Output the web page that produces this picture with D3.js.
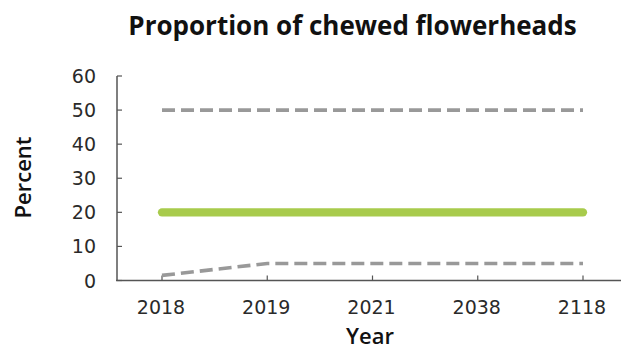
<!DOCTYPE html>
<html><head><meta charset="utf-8">
<script src="https://cdn.jsdelivr.net/npm/d3@7/dist/d3.min.js"></script>
<style>body{margin:0;background:#fff}svg{display:block}</style>
</head><body><svg id="c" width="621" height="349"></svg>
<script>
const years = ["2018","2019","2021","2038","2118"];
const targetLine = [20,20,20,20,20];
const upperBound = [50,50,50,50,50];
const lowerBound = [1.5,5,5,5,5];
const yTicks = [0,10,20,30,40,50,60];

const svg = d3.select("#c");
const font = "'Open Sans', sans-serif";
const numFont = "'DejaVu Sans', sans-serif";
const x = d3.scalePoint().domain(years).range([162,583]);
const y = d3.scaleLinear().domain([0,60]).range([280.5,76]);

svg.append("text").attr("x",352.5).attr("y",35).attr("text-anchor","middle")
  .attr("font-family",font).attr("font-weight",700).attr("font-size",26).attr("fill","#111")
  .text("Proportion of chewed flowerheads");

// axes
const axColor="#555";
svg.append("line").attr("x1",117).attr("x2",117).attr("y1",y(60)).attr("y2",y(0)).attr("stroke",axColor).attr("stroke-width",1.5);
svg.append("line").attr("x1",116).attr("x2",621).attr("y1",y(0)).attr("y2",y(0)).attr("stroke",axColor).attr("stroke-width",1.5);
svg.selectAll(".yt").data(yTicks).enter().append("line").attr("x1",117).attr("x2",122)
  .attr("y1",d=>y(d)).attr("y2",d=>y(d)).attr("stroke",axColor).attr("stroke-width",1.2);
svg.selectAll(".yl").data(yTicks).enter().append("text").attr("x",96).attr("y",d=>y(d)+7)
  .attr("text-anchor","end").attr("font-family",numFont).attr("font-size",19).attr("fill","#2a2a2a").text(d=>d);
svg.selectAll(".xt").data(years).enter().append("line").attr("x1",d=>x(d)).attr("x2",d=>x(d))
  .attr("y1",y(0)).attr("y2",y(0)-5).attr("stroke",axColor).attr("stroke-width",1.2);
svg.selectAll(".xl").data(years).enter().append("text").attr("x",d=>x(d)-1).attr("y",314)
  .attr("text-anchor","middle").attr("font-family",numFont).attr("font-size",19).attr("fill","#2a2a2a").text(d=>d);

svg.append("text").attr("x",370).attr("y",344).attr("text-anchor","middle")
  .attr("font-family",font).attr("font-weight",600).attr("font-size",22).attr("fill","#111").text("Year");
svg.append("text").attr("transform","translate(31,177.5) rotate(-90)").attr("text-anchor","middle")
  .attr("font-family",font).attr("font-weight",600).attr("font-size",22).attr("fill","#111").text("Percent");

const line = d3.line().x((d,i)=>x(years[i])).y(d=>y(d));
[upperBound, lowerBound].forEach(s=>{
  svg.append("path").attr("d",line(s)).attr("fill","none").attr("stroke","#999")
    .attr("stroke-width",3.6).attr("stroke-dasharray","13,6");
});
svg.append("path").attr("d",line(targetLine)).attr("fill","none").attr("stroke","#a8cb4c")
  .attr("stroke-width",8.3).attr("stroke-linecap","round");
</script></body></html>
